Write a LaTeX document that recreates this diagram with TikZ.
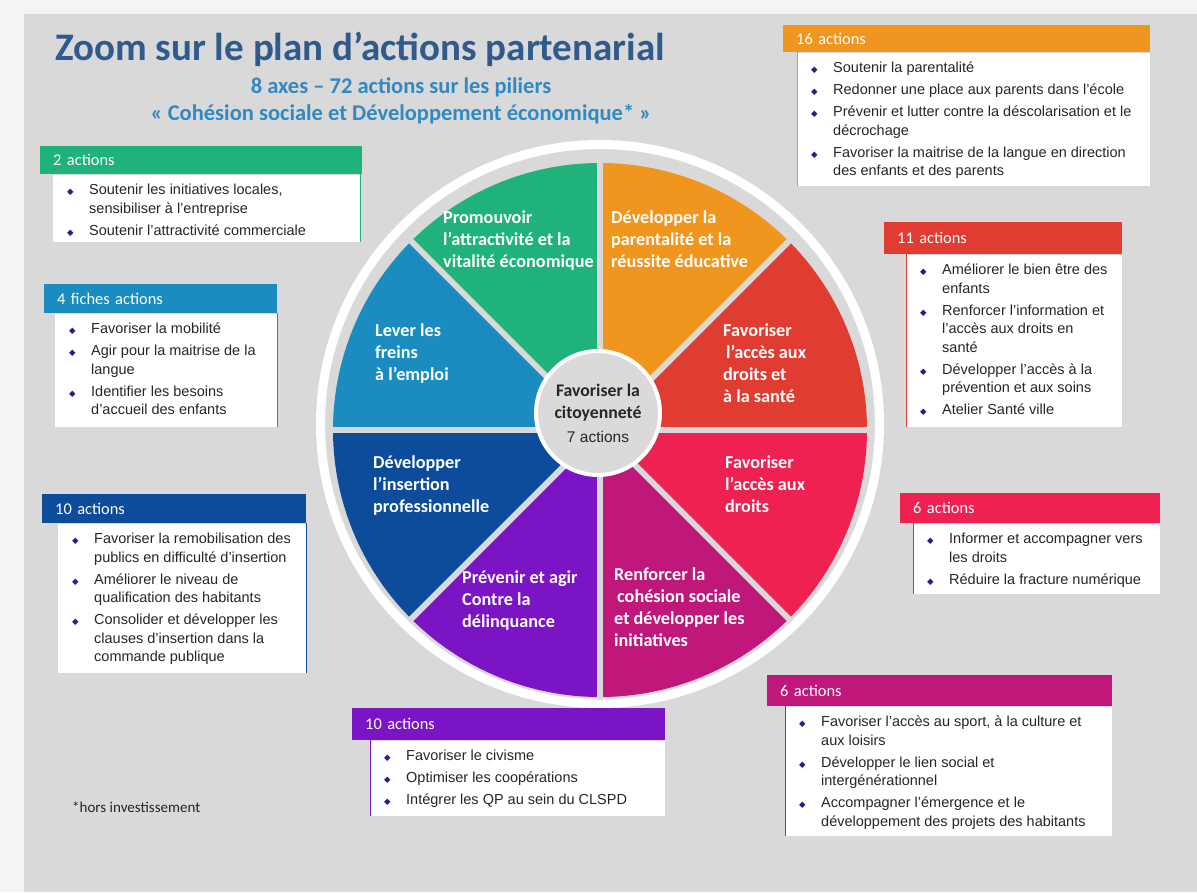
\documentclass[tikz,border=0pt]{standalone}
\usepackage{fontspec}
\setmainfont{Carlito}
\newfontfamily\arialfont{Liberation Sans}
\newfontfamily\symfont{DejaVu Sans}
\usepackage{xcolor}
\usetikzlibrary{positioning}
\definecolor{PlanOuter}{HTML}{F4F4F4}
\definecolor{PlanPanel}{HTML}{D9D9D9}
\definecolor{PlanCentre}{HTML}{DADADA}
\definecolor{PlanTitle}{HTML}{2E5A8C}
\definecolor{PlanSubtitle}{HTML}{3189C2}
\definecolor{PlanText}{HTML}{262626}
\definecolor{PlanBullet}{HTML}{2E1A87}
\definecolor{AxeGreen}{HTML}{1FB27A}
\definecolor{AxeOrange}{HTML}{F0961E}
\definecolor{AxeRed}{HTML}{E03C31}
\definecolor{AxeCrimson}{HTML}{EE2150}
\definecolor{AxeMagenta}{HTML}{C0187A}
\definecolor{AxePurple}{HTML}{7A14C4}
\definecolor{AxeNavy}{HTML}{0D4C9B}
\definecolor{AxeBlue}{HTML}{1A8CC0}
\newcommand{\bul}{\hspace*{14pt}\textcolor{PlanBullet}{\symfont\fontsize{8.5}{8.5}\selectfont ◆}}
\newenvironment{actlist}{\begin{tabular}{@{}p{36pt}@{}l@{}}}{\end{tabular}}
\tikzset{
  hdr/.style={fill=#1,anchor=north west,inner xsep=13pt,inner ysep=0pt,text=white,align=left,font=\fontsize{16.4}{18}\selectfont},
  actbody/.style={fill=white,anchor=north west,inner sep=0pt},
  sideline/.style={draw=#1,line width=1pt},
  itemlist/.style={anchor=north west,inner sep=0pt,text=PlanText,font=\arialfont\fontsize{14.5}{18.5}\selectfont},
  seglabel/.style={anchor=north west,inner sep=0pt,align=left,text=white,font=\bfseries\fontsize{18.2}{22}\selectfont},
  gapline/.style={draw=PlanPanel,line width=6pt},
  centrebox/.style={circle,fill=PlanCentre,draw=white,line width=4pt,minimum size=124pt,inner sep=0pt,align=center,text=PlanText,font=\fontsize{17.7}{22}\selectfont}
}

\begin{document}
\begin{tikzpicture}[x=1pt,y=-1pt]
  \useasboundingbox (0,0) rectangle (1197,892);
  \fill[PlanOuter] (0,0) rectangle (1197,892);
  \fill[PlanPanel] (24,14) rectangle (1197,892);

  % titre
  \node[anchor=base west,inner sep=0pt,text=PlanTitle,font=\bfseries\fontsize{39}{42}\selectfont] (title) at (55,60) {Zoom sur le plan d’actions partenarial};
  \node[anchor=base,inner sep=0pt,text=PlanSubtitle,font=\bfseries\fontsize{22.5}{26}\selectfont] (subA) at (401,93) {8 axes – 72 actions sur les piliers};
  \node[anchor=base,inner sep=0pt,text=PlanSubtitle,font=\bfseries\fontsize{22.5}{26}\selectfont] (subB) at (401,120) {« Cohésion sociale et Développement économique* »};

  % roue
  \begin{scope}[shift={(600,430)},y=1pt]
    \draw[white,line width=9pt] (0,6) circle[radius=279.5];
    \foreach \col [count=\i from 0] in {AxeRed,AxeOrange,AxeGreen,AxeBlue,AxeNavy,AxePurple,AxeMagenta,AxeCrimson}
      \fill[\col] (0,0) -- (\i*45:267) arc[start angle=\i*45,delta angle=45,radius=267] -- cycle;
    \foreach \a in {0,45,90,135}
      \draw[gapline] (\a:270) -- (\a+180:270);
  \end{scope}
  \node[centrebox] (centre) at (598,413) {\textbf{Favoriser la}\\\textbf{citoyenneté}\\[2pt]{\arialfont\fontsize{15.5}{17}\selectfont 7 actions}};

  \node[seglabel] (lblEco) at (443,211) {Promouvoir\\l’attractivité et la\\vitalité économique};
  \node[seglabel] (lblParent) at (611,211) {Développer la\\parentalité et la\\réussite éducative};
  \node[seglabel] (lblFreins) at (375,324) {Lever les\\freins\\à l’emploi};
  \node[seglabel] (lblSante) at (723,324) {Favoriser\\\hspace{3pt}l’accès aux\\droits et\\à la santé};
  \node[seglabel] (lblInsert) at (373,456) {Développer\\l’insertion\\professionnelle};
  \node[seglabel] (lblDroits) at (725,456) {Favoriser\\l’accès aux\\droits};
  \node[seglabel] (lblDelinq) at (462,571) {Prévenir et agir\\Contre la\\délinquance};
  \node[seglabel] (lblCohes) at (614,568) {Renforcer la\\\hspace{3pt}cohésion sociale\\et développer les\\initiatives};

  % 16 actions
  \node[hdr=AxeOrange,text width=341pt,minimum height=27pt] (hParent) at (783,25) {16 actions};
  \node[actbody,minimum width=353pt,minimum height=133pt] (bParent) at ([xshift=14pt]hParent.south west) {};
  \draw[sideline=AxeOrange] (bParent.north west) -- (bParent.south west);
  \node[itemlist] (tParent) at ([yshift=-7pt]bParent.north west) {\begin{actlist}
    \bul & Soutenir la parentalité\\[3.5pt]
    \bul & Redonner une place aux parents dans l’école\\[3.5pt]
    \bul & Prévenir et lutter contre la déscolarisation et le\\
         & décrochage\\[3.5pt]
    \bul & Favoriser la maitrise de la langue en direction\\
         & des enfants et des parents
  \end{actlist}};

  % 2 actions
  \node[hdr=AxeGreen,text width=296pt,minimum height=28pt] (hEco) at (40,146) {2 actions};
  \node[actbody,minimum width=307pt,minimum height=67pt] (bEco) at ([xshift=13pt]hEco.south west) {};
  \draw[sideline=AxeGreen] (bEco.north east) -- (bEco.south east);
  \node[itemlist] (tEco) at ([yshift=-7pt]bEco.north west) {\begin{actlist}
    \bul & Soutenir les initiatives locales,\\
         & sensibiliser à l’entreprise\\[3.5pt]
    \bul & Soutenir l’attractivité commerciale
  \end{actlist}};

  % 4 fiches actions
  \node[hdr=AxeBlue,text width=207pt,minimum height=29pt] (hFreins) at (44,284) {4 fiches actions};
  \node[actbody,minimum width=222pt,minimum height=113pt] (bFreins) at ([xshift=11pt]hFreins.south west) {};
  \draw[sideline=AxeBlue] (bFreins.north east) -- (bFreins.south east);
  \node[itemlist] (tFreins) at ([yshift=-7pt]bFreins.north west) {\begin{actlist}
    \bul & Favoriser la mobilité\\[3.5pt]
    \bul & Agir pour la maitrise de la\\
         & langue\\[3.5pt]
    \bul & Identifier les besoins\\
         & d’accueil des enfants
  \end{actlist}};

  % 10 actions (insertion)
  \node[hdr=AxeNavy,text width=238pt,minimum height=29pt] (hInsert) at (42,494) {10 actions};
  \node[actbody,minimum width=248pt,minimum height=149pt] (bInsert) at ([xshift=16pt]hInsert.south west) {};
  \draw[sideline=AxeNavy] (bInsert.north east) -- (bInsert.south east);
  \node[itemlist] (tInsert) at ([yshift=-7pt]bInsert.north west) {\begin{actlist}
    \bul & Favoriser la remobilisation des\\
         & publics en difficulté d’insertion\\[3.5pt]
    \bul & Améliorer le niveau de\\
         & qualification des habitants\\[3.5pt]
    \bul & Consolider et développer les\\
         & clauses d’insertion dans la\\
         & commande publique
  \end{actlist}};

  % 11 actions
  \node[hdr=AxeRed,text width=212pt,minimum height=32pt] (hSante) at (884,222) {11 actions};
  \node[actbody,minimum width=216pt,minimum height=172pt] (bSante) at ([xshift=22pt]hSante.south west) {};
  \draw[sideline=AxeRed] (bSante.north west) -- (bSante.south west);
  \node[itemlist] (tSante) at ([yshift=-7pt]bSante.north west) {\begin{actlist}
    \bul & Améliorer le bien être des\\
         & enfants\\[3.5pt]
    \bul & Renforcer l’information et\\
         & l’accès aux droits en\\
         & santé\\[3.5pt]
    \bul & Développer l’accès à la\\
         & prévention et aux soins\\[3.5pt]
    \bul & Atelier Santé ville
  \end{actlist}};

  % 6 actions (droits)
  \node[hdr=AxeCrimson,text width=234pt,minimum height=30pt] (hDroits) at (900,493) {6 actions};
  \node[actbody,minimum width=247pt,minimum height=70pt] (bDroits) at ([xshift=13pt]hDroits.south west) {};
  \draw[sideline=AxeCrimson] (bDroits.north west) -- (bDroits.south west);
  \node[itemlist] (tDroits) at ([yshift=-7pt]bDroits.north west) {\begin{actlist}
    \bul & Informer et accompagner vers\\
         & les droits\\[3.5pt]
    \bul & Réduire la fracture numérique
  \end{actlist}};

  % 6 actions (cohesion)
  \node[hdr=AxeMagenta,text width=319pt,minimum height=31pt] (hCohes) at (767,675) {6 actions};
  \node[actbody,minimum width=327pt,minimum height=129pt] (bCohes) at ([xshift=18pt]hCohes.south west) {};
  \draw[sideline=AxeMagenta] (bCohes.north west) -- (bCohes.south west);
  \node[itemlist] (tCohes) at ([yshift=-7pt]bCohes.north west) {\begin{actlist}
    \bul & Favoriser l’accès au sport, à la culture et\\
         & aux loisirs\\[3.5pt]
    \bul & Développer le lien social et\\
         & intergénérationnel\\[3.5pt]
    \bul & Accompagner l’émergence et le\\
         & développement des projets des habitants
  \end{actlist}};

  % 10 actions (delinquance)
  \node[hdr=AxePurple,text width=287pt,minimum height=32pt] (hDelinq) at (352,708) {10 actions};
  \node[actbody,minimum width=295pt,minimum height=75pt] (bDelinq) at ([xshift=18pt]hDelinq.south west) {};
  \draw[sideline=AxePurple] (bDelinq.north west) -- (bDelinq.south west);
  \node[itemlist] (tDelinq) at ([yshift=-7pt]bDelinq.north west) {\begin{actlist}
    \bul & Favoriser le civisme\\[3.5pt]
    \bul & Optimiser les coopérations\\[3.5pt]
    \bul & Intégrer les QP au sein du CLSPD
  \end{actlist}};

  \node[anchor=base west,inner sep=0pt,text=PlanText,font=\fontsize{15}{17}\selectfont] (note) at (72,812) {*hors investissement};
\end{tikzpicture}
\end{document}
